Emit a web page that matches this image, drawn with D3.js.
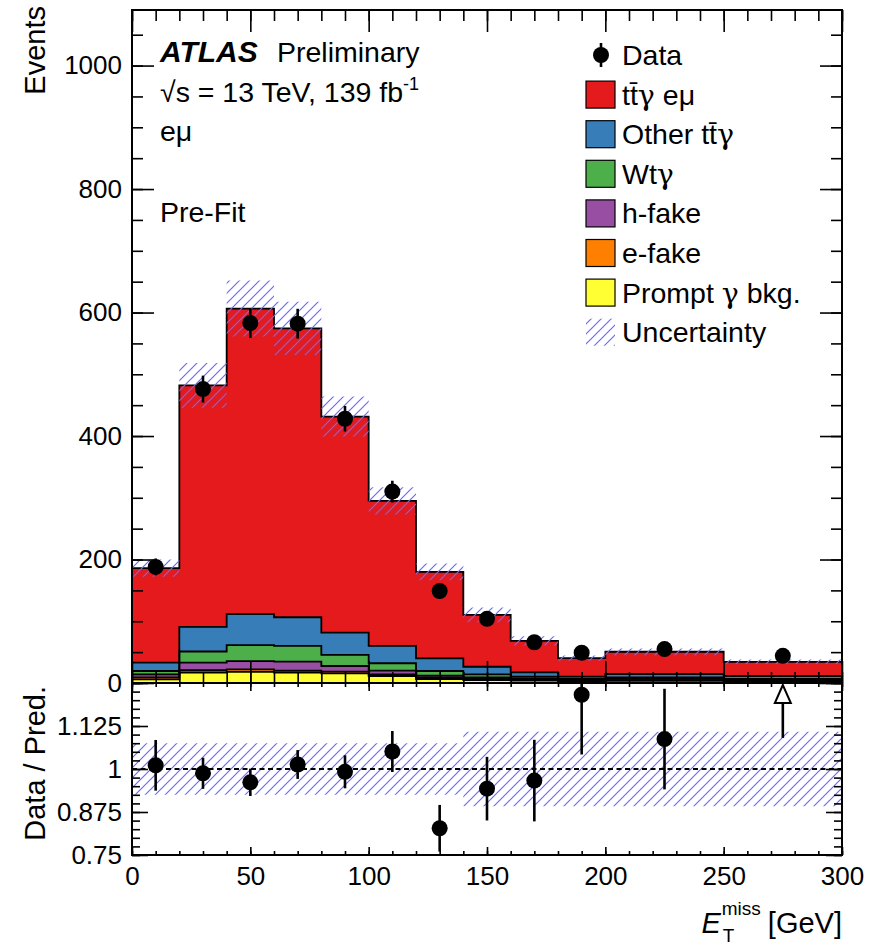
<!DOCTYPE html>
<html>
<head>
<meta charset="utf-8">
<script src="https://cdn.jsdelivr.net/npm/d3@7"></script>
<style>
  html, body { margin: 0; padding: 0; background: #ffffff; }
  svg text { font-family: "Liberation Sans", Arial, Helvetica, sans-serif; fill: #000; }
  svg tspan.greek { font-family: "DejaVu Serif", serif; }
</style>
</head>
<body>
<svg id="chart" width="880" height="946"></svg>
<script>
// ---- binning and event yields (E_T^miss in GeV) ----
const binEdges = [0, 20, 40, 60, 80, 100, 120, 140, 160, 180, 200, 250, 300];
const dataCounts = [188, 476, 583, 582, 428, 310, 149, 104, 66, 49, 55, 44];
const dataErrors = [13.7, 21.8, 24.1, 24.1, 20.7, 17.6, 12.2, 10.2, 8.1, 7.0, 7.4, 6.6];

// stacked predictions, bottom to top
const promptGammaBkg = [6, 17, 18, 17, 15.5, 11.3, 6.5, 4.9, 3.8, 2.5, 3.5, 2.4];
const eFake = [3, 4, 4, 3, 3, 2.7, 2.7, 2, 1.5, 1, 1.3, 1];
const hFake = [5, 12, 13.5, 14.5, 9, 6, 2.7, 2.2, 2.3, 1.5, 1.8, 1.3];
const wtGamma = [5.4, 18, 26, 25.5, 18, 12, 7.5, 4.8, 2.7, 1.5, 2.6, 1.8];
const otherTtGamma = [13.6, 40, 50, 46.5, 36, 28, 20.6, 12.4, 7, 3.8, 5.4, 4.8];
const ttGammaEmu = [153, 391, 495, 468, 350, 235, 140, 84, 51, 30, 36, 23];

// relative total uncertainty on the prediction per bin
const relUncertainty = [0.075, 0.075, 0.075, 0.075, 0.075, 0.075, 0.075, 0.108, 0.108, 0.108, 0.108, 0.108];

// axis ticks
const xMajorTicks = [0, 50, 100, 150, 200, 250, 300];
const yMainMajorTicks = [0, 200, 400, 600, 800, 1000];
const yRatioMajorTicks = [0.75, 0.875, 1, 1.125, 1.25];
const yRatioLabels = ["0.75", "0.875", "1", "1.125", ""];

// legend labels as [text, isGreek] pieces
const layers = [
  { key: "prompt", label: [["Prompt ", 0], ["\u03b3", 1], [" bkg.", 0]], values: promptGammaBkg, color: "#ffff33" },
  { key: "efake", label: [["e-fake", 0]], values: eFake, color: "#ff7f00" },
  { key: "hfake", label: [["h-fake", 0]], values: hFake, color: "#984ea3" },
  { key: "wt", label: [["Wt", 0], ["\u03b3", 1]], values: wtGamma, color: "#4daf4a" },
  { key: "other", label: [["Other tt\u0304", 0], ["\u03b3", 1]], values: otherTtGamma, color: "#377eb8" },
  { key: "signal", label: [["tt\u0304", 0], ["\u03b3", 1], [" e\u03bc", 0]], values: ttGammaEmu, color: "#e41a1c" }
];

// ---- layout ----
const xLeft = 132, xRight = 842, mainTop = 10, mainBottom = 683, ratioBottom = 855;
const tickFont = 26;   // axis tick labels
const textFont = 28.5; // legend and annotations
const titleFont = 29;  // axis titles

const svg = d3.select("#chart");
const x = d3.scaleLinear().domain([0, 300]).range([xLeft, xRight]);
const y = d3.scaleLinear().domain([0, 1090]).range([mainBottom, mainTop]);
const yr = d3.scaleLinear().domain([0.75, 1.25]).range([ratioBottom, mainBottom]);

const nBins = binEdges.length - 1;
const centers = d3.range(nBins).map(i => (binEdges[i] + binEdges[i + 1]) / 2);

// ---- defs: clips and hatch ----
const defs = svg.append("defs");
defs.append("clipPath").attr("id", "clipMain")
  .append("rect").attr("x", xLeft).attr("y", mainTop)
  .attr("width", xRight - xLeft).attr("height", mainBottom - mainTop);
defs.append("clipPath").attr("id", "clipRatio")
  .append("rect").attr("x", xLeft).attr("y", mainBottom)
  .attr("width", xRight - xLeft).attr("height", ratioBottom - mainBottom);
const hatch = defs.append("pattern").attr("id", "hatch")
  .attr("patternUnits", "userSpaceOnUse").attr("width", 10).attr("height", 10);
hatch.append("path")
  .attr("d", "M-2,2 L2,-2 M0,10 L10,0 M8,12 L12,8")
  .attr("stroke", "#6a6aff").attr("stroke-width", 1.2).attr("fill", "none");

// ---- stack ----
const rows = d3.range(nBins).map(i => {
  const r = {};
  layers.forEach(l => { r[l.key] = l.values[i]; });
  return r;
});
const stacked = d3.stack().keys(layers.map(l => l.key))(rows);
const totals = d3.range(nBins).map(i => d3.sum(layers, l => l.values[i]));

// step helper: one point per bin edge, the last edge repeats the last bin
const stepPts = () => binEdges.map((e, i) => ({ e, i: Math.min(i, nBins - 1) }));

const mainG = svg.append("g").attr("clip-path", "url(#clipMain)");

const stepArea = (y0fn, y1fn) => d3.area()
  .curve(d3.curveStepAfter)
  .x(d => x(d.e))
  .y0(d => y0fn(d.i))
  .y1(d => y1fn(d.i));
const stepLine = (yfn) => d3.line()
  .curve(d3.curveStepAfter)
  .x(d => x(d.e))
  .y(d => yfn(d.i));

stacked.forEach((s, li) => {
  mainG.append("path")
    .attr("d", stepArea(i => y(s[i][0]), i => y(s[i][1]))(stepPts()))
    .attr("fill", layers[li].color);
});
stacked.forEach(s => {
  mainG.append("path")
    .attr("d", stepLine(i => y(s[i][1]))(stepPts()))
    .attr("fill", "none").attr("stroke", "#000").attr("stroke-width", 1.8);
});

// uncertainty band on the total prediction
mainG.append("path")
  .attr("d", stepArea(i => y(totals[i] * (1 - relUncertainty[i])),
                      i => y(totals[i] * (1 + relUncertainty[i])))(stepPts()))
  .attr("fill", "url(#hatch)");

// data
mainG.selectAll("line.err").data(d3.range(nBins)).enter().append("line")
  .attr("x1", i => x(centers[i])).attr("x2", i => x(centers[i]))
  .attr("y1", i => y(dataCounts[i] - dataErrors[i]))
  .attr("y2", i => y(dataCounts[i] + dataErrors[i]))
  .attr("stroke", "#000").attr("stroke-width", 2.6);
mainG.selectAll("circle.data").data(d3.range(nBins)).enter().append("circle")
  .attr("cx", i => x(centers[i])).attr("cy", i => y(dataCounts[i]))
  .attr("r", 8).attr("fill", "#000");

// ---- ratio panel ----
const ratioG = svg.append("g").attr("clip-path", "url(#clipRatio)");
ratioG.append("path")
  .attr("d", stepArea(i => yr(1 - relUncertainty[i]), i => yr(1 + relUncertainty[i]))(stepPts()))
  .attr("fill", "url(#hatch)");
ratioG.append("line")
  .attr("x1", xLeft).attr("x2", xRight).attr("y1", yr(1)).attr("y2", yr(1))
  .attr("stroke", "#000").attr("stroke-width", 2).attr("stroke-dasharray", "5,3.5");

const ratios = d3.range(nBins).map(i => ({
  i, r: dataCounts[i] / totals[i], e: dataErrors[i] / totals[i]
}));
const inRange = ratios.filter(d => d.r <= 1.25);
const overflow = ratios.filter(d => d.r > 1.25);

ratioG.selectAll("line.rerr").data(inRange).enter().append("line")
  .attr("x1", d => x(centers[d.i])).attr("x2", d => x(centers[d.i]))
  .attr("y1", d => yr(d.r - d.e)).attr("y2", d => yr(d.r + d.e))
  .attr("stroke", "#000").attr("stroke-width", 2.6);
ratioG.selectAll("circle.rdata").data(inRange).enter().append("circle")
  .attr("cx", d => x(centers[d.i])).attr("cy", d => yr(d.r))
  .attr("r", 8).attr("fill", "#000");

// off-scale ratio points: open arrow at the top of the panel
const arrowTip = yr(1.25) + 2, arrowLen = 18, arrowHalf = 8;
overflow.forEach(d => {
  const cx = x(centers[d.i]);
  ratioG.append("line")
    .attr("x1", cx).attr("x2", cx)
    .attr("y1", yr(d.r - d.e)).attr("y2", arrowTip + arrowLen)
    .attr("stroke", "#000").attr("stroke-width", 2.6);
  ratioG.append("path")
    .attr("d", `M${cx},${arrowTip} L${cx - arrowHalf},${arrowTip + arrowLen} L${cx + arrowHalf},${arrowTip + arrowLen} Z`)
    .attr("fill", "#fff").attr("stroke", "#000").attr("stroke-width", 2);
});

// ---- axes ----
function styleAxis(g) {
  g.select(".domain").remove();
  g.selectAll(".tick line").attr("stroke", "#000").attr("stroke-width", 1.6);
  g.selectAll("text").attr("font-size", tickFont)
    .attr("font-family", "'Liberation Sans', Arial, Helvetica, sans-serif").attr("fill", "#000");
  g.attr("font-family", null).attr("font-size", null);
}
function drawAxis(axis, tx, ty) {
  svg.append("g").attr("transform", `translate(${tx},${ty})`).call(axis).call(styleAxis);
}
const xMinor = d3.range(0, 301, 10);
const yMainMinor = d3.range(0, 1091, 50);
const yRatioMinor = d3.range(0, 21).map(k => 0.75 + k * 0.025);

// main panel
drawAxis(d3.axisLeft(y).tickValues(yMainMinor).tickSize(-11).tickFormat(""), xLeft, 0);
drawAxis(d3.axisLeft(y).tickValues(yMainMajorTicks).tickSize(-22).tickPadding(10).tickFormat(d3.format("d")), xLeft, 0);
drawAxis(d3.axisRight(y).tickValues(yMainMinor).tickSize(-11).tickFormat(""), xRight, 0);
drawAxis(d3.axisRight(y).tickValues(yMainMajorTicks).tickSize(-22).tickFormat(""), xRight, 0);
drawAxis(d3.axisBottom(x).tickValues(xMinor).tickSize(-11).tickFormat(""), 0, mainBottom);
drawAxis(d3.axisBottom(x).tickValues(xMajorTicks).tickSize(-22).tickFormat(""), 0, mainBottom);
drawAxis(d3.axisTop(x).tickValues(xMinor).tickSize(-11).tickFormat(""), 0, mainTop);
drawAxis(d3.axisTop(x).tickValues(xMajorTicks).tickSize(-22).tickFormat(""), 0, mainTop);

// ratio panel
drawAxis(d3.axisLeft(yr).tickValues(yRatioMinor).tickSize(-8).tickFormat(""), xLeft, 0);
drawAxis(d3.axisLeft(yr).tickValues(yRatioMajorTicks).tickSize(-16).tickPadding(10)
  .tickFormat((d, k) => yRatioLabels[k]), xLeft, 0);
drawAxis(d3.axisRight(yr).tickValues(yRatioMinor).tickSize(-8).tickFormat(""), xRight, 0);
drawAxis(d3.axisRight(yr).tickValues(yRatioMajorTicks).tickSize(-16).tickFormat(""), xRight, 0);
drawAxis(d3.axisBottom(x).tickValues(xMinor).tickSize(-4).tickFormat(""), 0, ratioBottom);
drawAxis(d3.axisBottom(x).tickValues(xMajorTicks).tickSize(-8).tickPadding(12).tickFormat(d3.format("d")), 0, ratioBottom);
drawAxis(d3.axisTop(x).tickValues(xMinor).tickSize(-4).tickFormat(""), 0, mainBottom);
drawAxis(d3.axisTop(x).tickValues(xMajorTicks).tickSize(-8).tickFormat(""), 0, mainBottom);

// frames
[[mainTop, mainBottom], [mainBottom, ratioBottom]].forEach(([t, b]) => {
  svg.append("rect").attr("x", xLeft).attr("y", t)
    .attr("width", xRight - xLeft).attr("height", b - t)
    .attr("fill", "none").attr("stroke", "#000").attr("stroke-width", 2);
});

// ---- axis titles ----
svg.append("text").attr("transform", "translate(45,6) rotate(-90)")
  .attr("text-anchor", "end").attr("font-size", titleFont).text("Events");
svg.append("text").attr("transform", `translate(45,${mainBottom + 3}) rotate(-90)`)
  .attr("text-anchor", "end").attr("font-size", titleFont).text("Data / Pred.");

const xt = svg.append("g");
const gev = xt.append("text").attr("x", xRight).attr("y", 933)
  .attr("text-anchor", "end").attr("font-size", titleFont).text("[GeV]");
const gevStart = xRight - gev.node().getComputedTextLength();
const missX = gevStart - 7;
const miss = xt.append("text").attr("x", missX).attr("y", 915)
  .attr("text-anchor", "end").attr("font-size", 19).text("miss");
const missStart = missX - miss.node().getComputedTextLength();
xt.append("text").attr("x", missStart + 1).attr("y", 942)
  .attr("font-size", 19).text("T");
xt.append("text").attr("x", missStart - 1).attr("y", 933)
  .attr("text-anchor", "end").attr("font-size", titleFont)
  .attr("font-style", "italic").text("E");

// ---- labels ----
const lab = svg.append("g");
lab.append("text").attr("x", 160).attr("y", 62).attr("font-size", 30)
  .attr("font-weight", "bold").attr("font-style", "italic").text("ATLAS");
lab.append("text").attr("x", 277).attr("y", 62).attr("font-size", textFont).text("Preliminary");
const lumi = lab.append("text").attr("x", 160).attr("y", 102).attr("font-size", textFont);
lumi.append("tspan").text("\u221as = 13 TeV, 139 fb");
lumi.append("tspan").attr("font-size", 18).attr("dy", -12).text("-1");
lab.append("text").attr("x", 160).attr("y", 141).attr("font-size", textFont).text("e\u03bc");
lab.append("text").attr("x", 160).attr("y", 222).attr("font-size", textFont).text("Pre-Fit");

// ---- legend ----
const leg = svg.append("g");
const legX = 586, legTextX = 622, legY0 = 55, legStep = 39.6;
leg.append("line").attr("x1", 601).attr("x2", 601)
  .attr("y1", legY0 - 12).attr("y2", legY0 + 12)
  .attr("stroke", "#000").attr("stroke-width", 2.6);
leg.append("circle").attr("cx", 601).attr("cy", legY0).attr("r", 8).attr("fill", "#000");
leg.append("text").attr("x", legTextX).attr("y", legY0 + 10)
  .attr("font-size", textFont).text("Data");

const legendLayers = layers.slice().reverse();
legendLayers.forEach((l, k) => {
  const cy = legY0 + legStep * (k + 1);
  leg.append("rect").attr("x", legX).attr("y", cy - 13.5)
    .attr("width", 29).attr("height", 27)
    .attr("fill", l.color).attr("stroke", "#000").attr("stroke-width", 1.2);
  const t = leg.append("text").attr("x", legTextX).attr("y", cy + 10)
    .attr("font-size", textFont);
  l.label.forEach(([s, greek]) => {
    t.append("tspan").attr("class", greek ? "greek" : null).text(s);
  });
});
const cyU = legY0 + legStep * (legendLayers.length + 1);
leg.append("rect").attr("x", legX).attr("y", cyU - 13.5)
  .attr("width", 29).attr("height", 27).attr("fill", "url(#hatch)");
leg.append("text").attr("x", legTextX).attr("y", cyU + 10)
  .attr("font-size", textFont).text("Uncertainty");
</script>
</body>
</html>
